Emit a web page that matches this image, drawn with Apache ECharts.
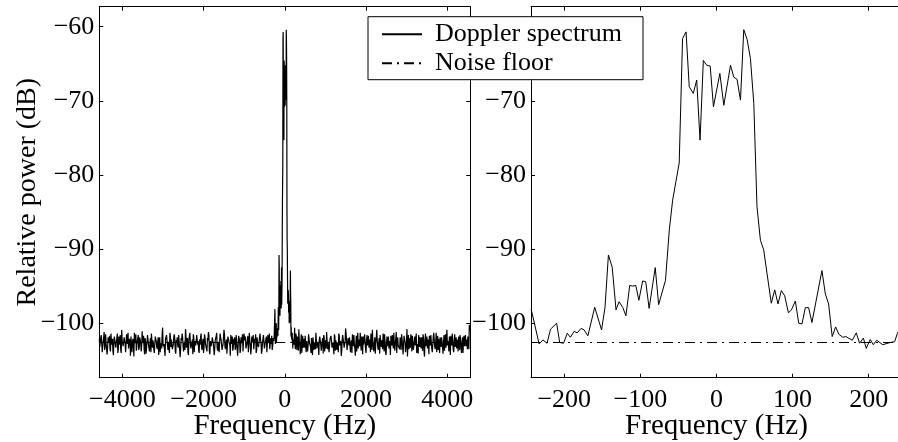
<!DOCTYPE html>
<html><head><meta charset="utf-8">
<script src="https://cdn.jsdelivr.net/npm/echarts@6/dist/echarts.min.js"></script>
<style>html,body{margin:0;padding:0;background:#fff}#c{width:898px;height:442px}</style>
</head><body><div id="c"></div>
<script>
const FONT = 'Liberation Serif';
const seriesNames = ['Doppler spectrum', 'Noise floor'];
const xAxisName = 'Frequency (Hz)';
const yAxisName = 'Relative power (dB)';
const xTicksWide = [-4000, -2000, 0, 2000, 4000];
const xTicksZoom = [-200, -100, 0, 100, 200];
const yTicks = [-100, -90, -80, -70, -60];
const wideRange = [-4570, 4570];
const zoomRange = [-243.7, 243.7];
const yRange = [-107.35, -57.3];
const noiseFloor = -102.6;

// zoomed band
const zoomFreq = [-243.5,-233,-228,-222.6,-218,-210,-206,-201,-196,-192,-187,-183,-178,-174,-169,-160,-151,-146.5,-142,-137,-132,-128,-123,-119,-114,-110,-106,-102,-97,-93,-88.5,-80.5,-76,-67,-62,-57.6,-53,-49,-44.6,-40,-35.8,-30.5,-26,-21.6,-17.3,-12.9,-8.3,-4,4.4,9.6,18.4,22.7,27,31.5,35.8,40.2,44.6,49,53.2,57.7,62,66.4,72,76.5,80.8,85.2,89.6,94.5,98.4,103.6,108,112.3,116.7,121,125.4,138.5,143,147.3,152,156.5,160.8,166,170,178.4,183.6,188,193,196.7,202,206,210.5,218.5,228,234,237.7,242];
const zoomPower = [-98.1,-102.8,-102.25,-102.7,-100.8,-100.0,-102.6,-102.7,-101.35,-101.9,-101.1,-101.3,-100.7,-100.9,-101.7,-97.85,-100.9,-97.9,-90.8,-92.45,-98.2,-97.1,-97.9,-99.0,-94.9,-95.0,-94.9,-96.9,-94.3,-94.4,-98.0,-92.5,-97.5,-94.2,-87.4,-83.4,-80.7,-78.4,-61.6,-60.7,-68.1,-69.0,-67.2,-75.3,-64.55,-65.2,-65.3,-70.8,-66.3,-70.6,-65.2,-66.8,-67.1,-69.9,-60.4,-61.7,-64.3,-70.35,-84.3,-88.8,-90.1,-93.3,-97.3,-95.5,-97.4,-95.6,-96.3,-98.6,-98.2,-97.0,-100.0,-100.1,-97.9,-97.9,-99.9,-92.9,-96.05,-97.4,-101.8,-100.5,-101.5,-101.9,-101.8,-102.3,-101.3,-102.7,-102.0,-103.4,-102.2,-102.9,-102.3,-102.9,-102.6,-102.5,-101.35,-100.6];

// noise outside the band on the wide panel (uniform FFT bins, two interleaved sets)
const lowNoiseStart = -4570, highNoiseStart = 250, noiseStep = 12;
const lowNoiseA = [
-102.1,-103.4,-101.6,-103.9,-102.5,-101.2,-103.1,-102.8,-104.2,-101.9,
-102.6,-103.5,-101.4,-102.9,-103.8,-102.2,-101.7,-103.3,-102.4,-104.0,
-101.8,-102.7,-103.6,-100.9,-102.3,-103.2,-102.0,-103.9,-101.5,-102.8,
-103.4,-102.1,-104.4,-101.9,-102.6,-103.0,-101.3,-102.9,-103.7,-102.4,
-101.6,-103.3,-102.2,-103.8,-101.1,-102.7,-103.5,-102.0,-104.1,-102.5,
-101.8,-103.1,-102.6,-103.9,-101.4,-102.3,-103.6,-102.8,-101.7,-103.2,
-102.4,-104.3,-101.9,-102.7,-103.4,-100.6,-102.9,-103.7,-102.1,-101.6,
-103.0,-102.5,-104.0,-101.8,-102.2,-103.5,-102.9,-101.5,-103.8,-102.3,
-101.9,-103.3,-102.6,-104.6,-102.0,-101.4,-103.1,-102.8,-103.6,-101.7,
-102.5,-103.9,-102.1,-101.3,-103.4,-102.7,-104.2,-101.9,-102.4,-103.0,
-101.6,-102.9,-103.7,-102.2,-101.8,-103.3,-102.6,-104.0,-101.5,-102.8,
-103.5,-102.0,-101.2,-103.8,-102.4,-103.1,-101.9,-102.7,-104.3,-102.3,
-101.7,-103.4,-102.5,-103.9,-101.4,-102.2,-103.6,-102.9,-100.9,-103.2,
-102.6,-104.1,-101.8,-102.4,-103.0,-101.6,-102.8,-103.7,-102.1,-101.9,
-103.3,-102.5,-104.4,-101.7,-102.3,-103.5,-102.7,-101.5,-103.8,-102.0,
-101.8,-103.1,-102.6,-103.9,-101.3,-102.9,-103.4,-102.2,-101.6,-103.6,
-102.4,-104.0,-101.9,-102.8,-103.2,-101.4,-102.6,-103.7,-102.1,-101.8,
-103.3,-102.5,-103.9,-101.6,-102.7,-103.5,-102.0,-101.7,-103.1,-102.4];
const lowNoiseB = [
-103.2,-101.9,-102.7,-104.1,-102.3,-103.6,-101.5,-102.9,-103.4,-102.0,
-101.7,-103.8,-102.5,-102.1,-104.3,-101.8,-103.0,-102.6,-101.4,-103.5,
-102.9,-101.6,-104.0,-102.4,-103.1,-101.9,-102.8,-103.7,-102.2,-101.3,
-103.3,-102.6,-101.8,-103.9,-102.1,-104.5,-102.7,-101.5,-103.2,-102.4,
-103.6,-101.9,-102.8,-103.0,-102.3,-101.7,-104.2,-102.5,-103.4,-101.6,
-102.9,-103.8,-102.0,-101.4,-103.3,-102.7,-104.0,-101.8,-102.5,-103.5,
-101.9,-102.3,-103.9,-102.6,-101.5,-103.1,-102.8,-104.4,-102.2,-101.7,
-103.6,-102.4,-101.3,-103.2,-102.9,-103.7,-101.8,-102.1,-104.1,-102.6,
-103.0,-101.6,-102.7,-103.4,-102.3,-101.9,-103.8,-102.5,-100.8,-103.3,
-102.0,-104.3,-101.7,-102.8,-103.5,-102.2,-101.5,-103.9,-102.6,-103.1,
-101.8,-102.4,-104.0,-102.9,-101.4,-103.6,-102.1,-103.3,-101.9,-102.7,
-103.8,-102.3,-101.6,-104.2,-102.5,-103.0,-101.8,-102.9,-103.4,-102.0,
-101.3,-103.7,-102.6,-104.1,-101.9,-102.4,-103.2,-102.8,-101.5,-103.5,
-102.2,-103.9,-101.7,-102.6,-104.4,-102.1,-101.8,-103.3,-102.9,-103.6,
-101.6,-102.5,-103.1,-102.0,-104.0,-101.9,-102.7,-103.8,-101.4,-102.3,
-103.4,-102.8,-101.7,-103.0,-102.4,-104.2,-101.8,-102.6,-103.5,-102.1,
-101.5,-103.7,-102.9,-103.2,-101.9,-102.3,-104.1,-102.7,-101.6,-103.4,
-102.5,-101.8,-103.9,-102.2,-101.4,-103.3,-102.8,-103.6,-102.0,-101.9];
const highNoiseA = [
-102.8,-101.4,-103.6,-102.2,-100.8,-103.1,-102.5,-104.0,-101.7,-102.9,
-103.3,-101.9,-102.4,-103.8,-101.5,-102.7,-103.2,-102.0,-104.3,-101.8,
-102.6,-103.5,-101.3,-102.9,-103.0,-102.2,-101.6,-103.7,-102.4,-104.1,
-101.9,-102.8,-103.4,-101.2,-102.5,-103.9,-102.1,-101.7,-103.3,-102.6,
-104.2,-101.8,-102.3,-103.6,-102.9,-101.4,-103.0,-102.4,-103.8,-101.6,
-102.7,-103.2,-100.7,-102.5,-103.5,-102.0,-101.9,-103.9,-102.3,-101.5,
-103.1,-102.8,-104.4,-101.7,-102.2,-103.4,-102.6,-101.3,-103.7,-102.1,
-101.8,-103.0,-102.5,-104.0,-101.6,-102.9,-103.3,-102.2,-101.4,-103.6,
-102.4,-103.8,-101.9,-102.7,-100.9,-103.2,-102.6,-104.1,-101.7,-102.3,
-103.5,-102.0,-101.5,-103.9,-102.8,-103.1,-101.8,-102.4,-104.3,-102.1,
-101.6,-103.4,-102.7,-103.7,-101.2,-102.5,-103.0,-102.9,-101.9,-103.6,
-102.2,-104.2,-101.7,-102.6,-103.3,-100.8,-102.8,-103.5,-102.0,-101.5,
-103.8,-102.4,-103.1,-101.8,-102.3,-104.0,-102.7,-101.6,-103.2,-102.5,
-101.9,-103.7,-102.1,-104.5,-101.4,-102.9,-103.4,-102.2,-101.7,-103.0,
-102.6,-103.9,-101.8,-102.3,-103.5,-101.3,-102.8,-103.6,-102.0,-101.9,
-103.2,-102.5,-104.1,-101.6,-102.7,-103.3,-100.9,-102.4,-103.8,-102.1,
-101.7,-103.0,-102.6,-103.9,-101.5,-102.8,-103.4,-102.2,-101.8,-103.6,
-102.3,-104.0,-101.9,-102.5,-103.1,-101.6,-102.9,-103.5,-102.0,-100.2];
const highNoiseB = [
-103.5,-102.0,-101.8,-103.7,-102.6,-104.2,-101.5,-102.9,-103.3,-102.1,
-101.7,-103.9,-102.4,-103.0,-101.4,-102.8,-104.0,-102.2,-101.9,-103.6,
-102.7,-101.3,-103.4,-102.5,-104.3,-101.8,-102.9,-103.1,-102.0,-101.6,
-103.8,-102.3,-101.2,-103.5,-102.7,-104.1,-101.9,-102.4,-103.2,-102.8,
-101.5,-103.7,-102.1,-102.6,-103.9,-101.7,-102.9,-104.4,-102.2,-101.8,
-103.3,-102.5,-101.4,-103.6,-102.0,-103.0,-101.9,-102.7,-104.0,-102.4,
-101.6,-103.4,-102.8,-103.8,-101.3,-102.2,-103.1,-102.6,-101.8,-104.2,
-102.9,-101.5,-103.5,-102.3,-103.0,-101.7,-102.5,-103.9,-102.1,-100.9,
-103.3,-102.7,-104.1,-101.9,-102.4,-103.6,-102.0,-101.6,-103.2,-102.8,
-101.4,-103.8,-102.5,-104.3,-101.8,-102.2,-103.4,-102.9,-101.7,-103.0,
-102.6,-101.3,-103.7,-102.1,-104.0,-101.9,-102.8,-103.5,-102.3,-101.5,
-103.1,-102.7,-101.8,-103.9,-102.4,-104.5,-101.6,-102.9,-103.3,-102.0,
-101.7,-103.6,-102.5,-103.0,-101.4,-102.8,-104.1,-102.2,-101.9,-103.4,
-102.7,-101.5,-103.8,-102.3,-103.1,-101.8,-102.6,-104.2,-102.0,-101.6,
-103.5,-102.9,-101.3,-103.2,-102.4,-103.9,-101.7,-102.1,-104.0,-102.8,
-101.9,-103.3,-102.5,-103.7,-101.5,-102.2,-103.0,-102.7,-101.8,-104.3,
-102.6,-101.4,-103.6,-102.3,-103.2,-101.9,-102.8,-103.8,-102.1,-101.6,
-103.4,-102.5,-104.0,-101.7,-102.9,-103.1,-102.2,-101.8,-103.5,-101.0];

function interleave(start, a, b) {
  const out = [];
  for (let i = 0; i < a.length; i++) {
    out.push([start + 2 * i * noiseStep, a[i]]);
    out.push([start + (2 * i + 1) * noiseStep, b[i]]);
  }
  return out;
}
const zoomData = zoomFreq.map((f, i) => [f, zoomPower[i]]);
const wideData = interleave(lowNoiseStart, lowNoiseA, lowNoiseB)
  .concat(zoomData)
  .concat(interleave(highNoiseStart, highNoiseA, highNoiseB));

const fmt = v => String(v).replace('-', '\u2212');
const TICK_FS = 26, NAME_FS = 28, XNAME_FS = 29;

function mkX(grid, range, ticks, pos, labels, name) {
  return {
    type: 'value', gridIndex: grid, position: pos, min: range[0], max: range[1],
    name: name || '', nameLocation: 'middle', nameGap: 34, nameMoveOverlap: false,
    nameTextStyle: { fontFamily: FONT, fontSize: XNAME_FS, color: '#000' },
    axisLine: { show: true, onZero: false, lineStyle: { color: '#000', width: 1 } },
    axisTick: { show: true, inside: true, length: 4, customValues: ticks, lineStyle: { color: '#000' } },
    axisLabel: { show: labels, customValues: ticks, formatter: fmt, fontFamily: FONT, fontSize: TICK_FS, color: '#000', margin: 9 },
    splitLine: { show: false }
  };
}
function mkY(grid, pos, labels, name) {
  return {
    type: 'value', gridIndex: grid, position: pos, min: yRange[0], max: yRange[1],
    name: name || '', nameLocation: 'middle', nameGap: 58, nameRotate: 90, nameMoveOverlap: false,
    nameTextStyle: { fontFamily: FONT, fontSize: NAME_FS, color: '#000' },
    axisLine: { show: true, onZero: false, lineStyle: { color: '#000', width: 1 } },
    axisTick: { show: true, inside: true, length: 4, customValues: yTicks, lineStyle: { color: '#000' } },
    axisLabel: { show: labels, customValues: yTicks, formatter: fmt, fontFamily: FONT, fontSize: TICK_FS, color: '#000', margin: 5 },
    splitLine: { show: false }
  };
}

const dashDot = [10, 5, 2, 5];
const chart = echarts.init(document.getElementById('c'), null, { renderer: 'canvas' });
chart.setOption({
  animation: false,
  backgroundColor: '#fff',
  grid: [
    { left: 99.3, top: 6.7, width: 371, height: 371, containLabel: false, outerBoundsMode: 'none' },
    { left: 531, top: 6.7, width: 371, height: 371, containLabel: false, outerBoundsMode: 'none' }
  ],
  xAxis: [
    mkX(0, wideRange, xTicksWide, 'bottom', true, xAxisName),
    mkX(0, wideRange, xTicksWide, 'top', false),
    mkX(1, zoomRange, xTicksZoom, 'bottom', true, xAxisName),
    mkX(1, zoomRange, xTicksZoom, 'top', false)
  ],
  yAxis: [
    mkY(0, 'left', true, yAxisName),
    mkY(0, 'right', false),
    mkY(1, 'left', true)
  ],
  legend: {
    orient: 'vertical', left: 368, top: 16.7, z: 10, zlevel: 1,
    backgroundColor: '#fff', borderColor: '#000', borderWidth: 1,
    padding: [3, 21, 2, 13], itemGap: 0, itemWidth: 40, itemHeight: 14,
    itemStyle: { opacity: 0 },
    textStyle: { fontFamily: FONT, fontSize: TICK_FS, color: '#000', lineHeight: 29, padding: [0, 0, 0, 8] },
    data: seriesNames
  },
  series: [
    { name: seriesNames[1], type: 'line', xAxisIndex: 0, yAxisIndex: 0, symbol: 'none', z: 1,
      lineStyle: { color: '#000', width: 1, type: dashDot }, itemStyle: { color: '#000' },
      data: [[wideRange[0], noiseFloor], [wideRange[1], noiseFloor]] },
    { name: seriesNames[0], type: 'line', xAxisIndex: 0, yAxisIndex: 0, symbol: 'none', z: 2,
      lineStyle: { color: '#000', width: 1.2 }, itemStyle: { color: '#000' }, data: wideData },
    { name: seriesNames[1], type: 'line', xAxisIndex: 2, yAxisIndex: 2, symbol: 'none', z: 1,
      lineStyle: { color: '#000', width: 1, type: dashDot }, itemStyle: { color: '#000' },
      data: [[zoomRange[0], noiseFloor], [zoomRange[1], noiseFloor]] },
    { name: seriesNames[0], type: 'line', xAxisIndex: 2, yAxisIndex: 2, symbol: 'none', z: 2,
      lineStyle: { color: '#000', width: 1 }, itemStyle: { color: '#000' }, data: zoomData }
  ]
});
</script></body></html>
